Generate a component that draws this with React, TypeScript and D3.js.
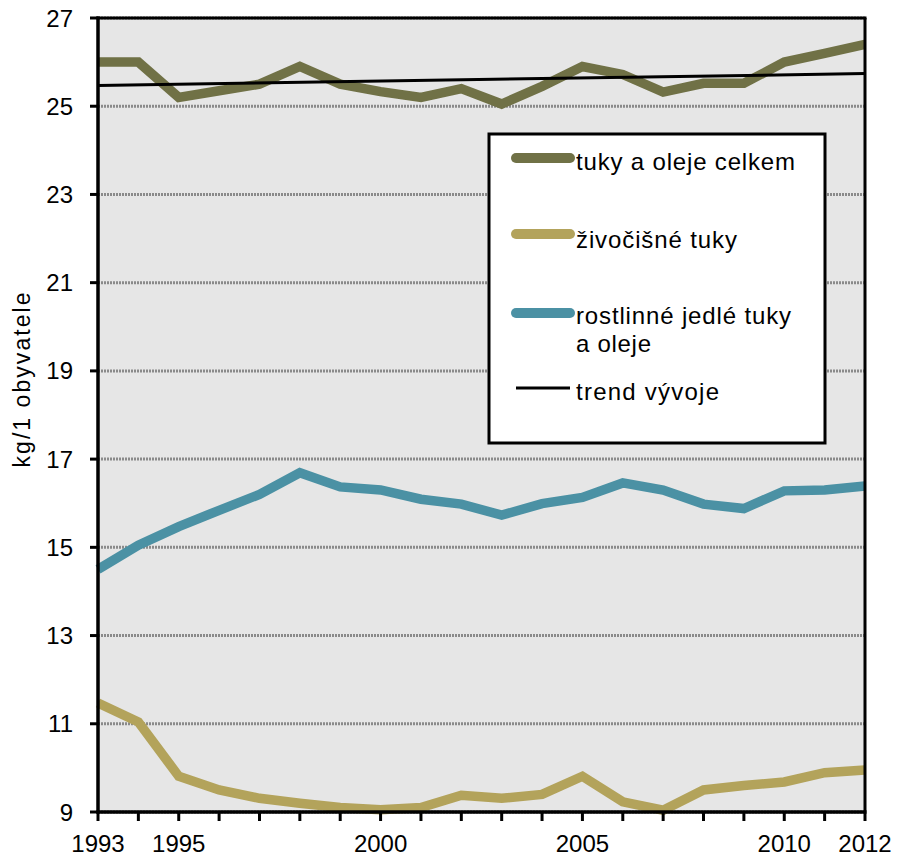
import React from "react";
import * as d3 from "d3";

const years = [1993, 1994, 1995, 1996, 1997, 1998, 1999, 2000, 2001, 2002, 2003, 2004, 2005, 2006, 2007, 2008, 2009, 2010, 2011, 2012];
const totalFats = [26.0, 26.0, 25.2, 25.35, 25.5, 25.9, 25.5, 25.33, 25.2, 25.4, 25.05, 25.45, 25.9, 25.72, 25.32, 25.52, 25.52, 26.0, 26.2, 26.4];
const animalFats = [11.47, 11.04, 9.81, 9.5, 9.31, 9.2, 9.1, 9.05, 9.1, 9.38, 9.31, 9.4, 9.81, 9.23, 9.04, 9.5, 9.6, 9.68, 9.89, 9.95];
const vegetableFats = [14.5, 15.05, 15.47, 15.84, 16.2, 16.69, 16.37, 16.3, 16.09, 15.98, 15.73, 15.99, 16.13, 16.46, 16.3, 15.98, 15.88, 16.28, 16.3, 16.39];
const trendYears = [1993, 2012];
const trendValues = [25.47, 25.74];
const yTicks = [9, 11, 13, 15, 17, 19, 21, 23, 25, 27];
const xLabelYears = [1993, 1995, 2000, 2005, 2010, 2012];
const yAxisTitle = "kg/1 obyvatele";
const legendLabels = ["tuky a oleje celkem", "živočišné tuky", "rostlinné jedlé tuky", "a oleje", "trend vývoje"];

const COLORS = { total: "#707146", animal: "#b3a35b", veg: "#4b91a4" };
const FONT = "'Liberation Sans', Arial, sans-serif";

export default function App() {
  const W = 897, H = 856;
  const x = d3.scaleLinear().domain([1993, 2012]).range([98, 865]);
  const y = d3.scaleLinear().domain([9, 27]).range([812, 18]);
  const line = d3.line<number>().x((_, i) => x(years[i])).y((d) => y(d));
  const trendLine = d3.line<number>().x((_, i) => x(trendYears[i])).y((d) => y(d));

  const series = [
    { data: totalFats, color: COLORS.total },
    { data: animalFats, color: COLORS.animal },
    { data: vegetableFats, color: COLORS.veg },
  ];

  const [x0, x1] = x.range();
  const [yb, yt] = y.range();

  return (
    <svg width={W} height={H} style={{ position: "absolute", left: 0, top: 0, background: "#fff" }} fontFamily={FONT}>
      <rect x={x0} y={yt} width={x1 - x0} height={yb - yt} fill="#e6e6e6" />
      {yTicks.map((t) => (
        <line key={"g" + t} x1={x0} x2={x1} y1={y(t)} y2={y(t)} stroke="#8a8a8a" strokeWidth={3} strokeDasharray="2,1" />
      ))}
      {series.map((s, i) => (
        <path key={i} d={line(s.data) || ""} fill="none" stroke={s.color} strokeWidth={9.5} strokeLinejoin="miter" />
      ))}
      <path d={trendLine(trendValues) || ""} fill="none" stroke="#000" strokeWidth={3} />
      <line x1={x0 - 1.5} x2={x1 + 1.5} y1={yt} y2={yt} stroke="#000" strokeWidth={3} />
      <line x1={x1} x2={x1} y1={yt} y2={yb} stroke="#000" strokeWidth={3} />
      <line x1={x0} x2={x0} y1={yt - 1.5} y2={yb + 1.5} stroke="#000" strokeWidth={3.5} />
      <line x1={x0 - 1.5} x2={x1 + 1.5} y1={yb} y2={yb} stroke="#000" strokeWidth={3.5} />
      {yTicks.map((t) => (
        <g key={"yt" + t}>
          <line x1={x0 - 8} x2={x0} y1={y(t)} y2={y(t)} stroke="#000" strokeWidth={3} />
          <text x={73} y={y(t) + 8.5} textAnchor="end" fontSize={24} fill="#000">{t}</text>
        </g>
      ))}
      {years.map((yr) => (
        <line key={"xt" + yr} x1={x(yr)} x2={x(yr)} y1={yb} y2={yb + 9} stroke="#000" strokeWidth={3} />
      ))}
      {xLabelYears.map((yr) => (
        <text key={"xl" + yr} x={x(yr)} y={852} textAnchor="middle" fontSize={24} fill="#000">{yr}</text>
      ))}
      <text transform="translate(30,380) rotate(-90)" textAnchor="middle" fontSize={23} textLength={175} lengthAdjust="spacing" fill="#000">{yAxisTitle}</text>

      <rect x={489} y={134} width={336} height={309} fill="#fff" stroke="#000" strokeWidth={3} />
      <line x1={516} x2={570} y1={158} y2={158} stroke={COLORS.total} strokeWidth={10} strokeLinecap="round" />
      <line x1={516} x2={570} y1={234} y2={234} stroke={COLORS.animal} strokeWidth={10} strokeLinecap="round" />
      <line x1={516} x2={570} y1={313} y2={313} stroke={COLORS.veg} strokeWidth={10} strokeLinecap="round" />
      <line x1={516} x2={570} y1={388} y2={388} stroke="#000" strokeWidth={3} />
      <text x={576} y={170} fontSize={24} textLength={219} lengthAdjust="spacing">{legendLabels[0]}</text>
      <text x={576} y={248} fontSize={24} textLength={161} lengthAdjust="spacing">{legendLabels[1]}</text>
      <text x={576} y={324} fontSize={24} textLength={215} lengthAdjust="spacing">{legendLabels[2]}</text>
      <text x={576} y={352} fontSize={24} textLength={75} lengthAdjust="spacing">{legendLabels[3]}</text>
      <text x={576} y={400} fontSize={24} textLength={143} lengthAdjust="spacing">{legendLabels[4]}</text>
    </svg>
  );
}
